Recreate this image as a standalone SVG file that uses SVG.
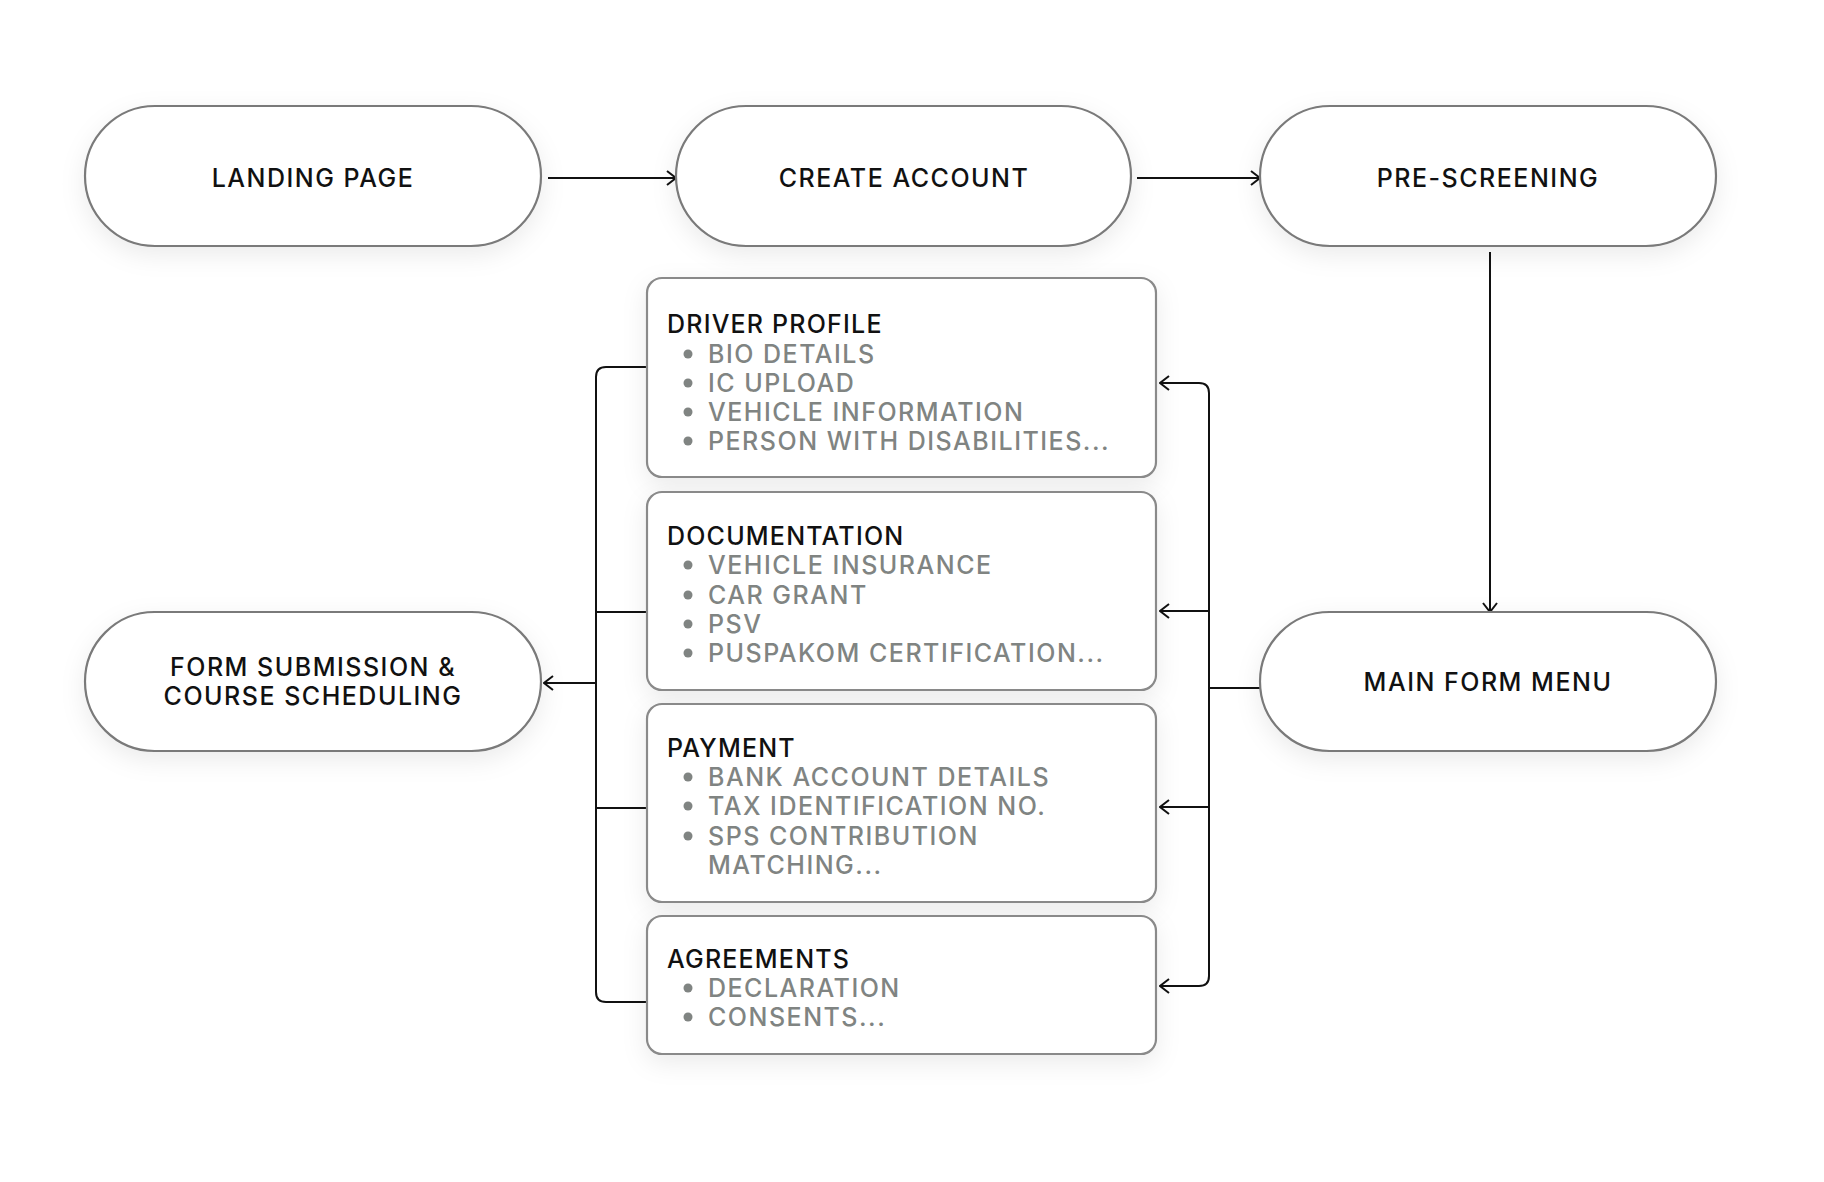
<svg xmlns="http://www.w3.org/2000/svg" width="1824" height="1182" viewBox="0 0 1824 1182">
<defs>
<filter id="sh" x="-20%" y="-30%" width="140%" height="170%"><feDropShadow dx="0" dy="8" stdDeviation="12" flood-color="#000" flood-opacity="0.08"/></filter>
<marker id="ah" viewBox="0 0 12 16" refX="11" refY="8" markerWidth="12" markerHeight="16" markerUnits="userSpaceOnUse" orient="auto"><path d="M2,1 L11,8 L2,15" fill="none" stroke="#111" stroke-width="2"/></marker>
</defs>
<style>
.pill{fill:#fff;stroke:#7a7a7a;stroke-width:2.2;filter:url(#sh)}
.box{fill:#fff;stroke:#8a8a8a;stroke-width:2.2;filter:url(#sh)}
.pt{font-family:Inter,"Liberation Sans",sans-serif;font-size:25px;font-weight:500;letter-spacing:1.5px;fill:#111;text-anchor:middle}
.tt{font-family:Inter,"Liberation Sans",sans-serif;font-size:25px;font-weight:500;letter-spacing:1.2px;fill:#111}
.it{font-family:Inter,"Liberation Sans",sans-serif;font-size:25px;font-weight:500;letter-spacing:1.5px;fill:#808482}
.dot{fill:#808482}
.ln{fill:none;stroke:#111;stroke-width:2}
</style>
<rect width="1824" height="1182" fill="#fff"/>
<g id="connectors">
<path class="ln" d="M548,178 H676" marker-end="url(#ah)"/>
<path class="ln" d="M1137,178 H1260" marker-end="url(#ah)"/>
<path class="ln" d="M1490,252 V612" marker-end="url(#ah)"/>
<path class="ln" d="M1260,688 H1209"/>
<path class="ln" d="M1209,688 V393 Q1209,383 1199,383 H1160" marker-end="url(#ah)"/>
<path class="ln" d="M1209,688 V976 Q1209,986 1199,986 H1160" marker-end="url(#ah)"/>
<path class="ln" d="M1209,611 H1160" marker-end="url(#ah)"/>
<path class="ln" d="M1209,807 H1160" marker-end="url(#ah)"/>
<path class="ln" d="M647,367 H606 Q596,367 596,377 V992 Q596,1002 606,1002 H647"/>
<path class="ln" d="M647,612 H596"/>
<path class="ln" d="M647,808 H596"/>
<path class="ln" d="M596,683 H544" marker-end="url(#ah)"/>
</g>
<g id="landing"><rect class="pill" x="85" y="106" width="456" height="140" rx="70"/><text class="pt" x="313" y="187">LANDING PAGE</text></g>
<g id="create"><rect class="pill" x="676" y="106" width="455" height="140" rx="70"/><text class="pt" x="904" y="187">CREATE ACCOUNT</text></g>
<g id="prescreen"><rect class="pill" x="1260" y="106" width="456" height="140" rx="70"/><text class="pt" x="1488" y="187">PRE-SCREENING</text></g>
<g id="mainmenu"><rect class="pill" x="1260" y="612" width="456" height="139" rx="69.5"/><text class="pt" x="1488" y="691">MAIN FORM MENU</text></g>
<g id="submission"><rect class="pill" x="85" y="612" width="456" height="139" rx="69.5"/><text class="pt" x="313" y="676">FORM SUBMISSION &amp;</text><text class="pt" x="313" y="705">COURSE SCHEDULING</text></g>
<g id="driver"><rect class="box" x="647" y="278" width="509" height="199" rx="15"/>
<text class="tt" x="667" y="333">DRIVER PROFILE</text>
<circle class="dot" cx="688" cy="354" r="4.5"/><text class="it" x="708" y="363">BIO DETAILS</text>
<circle class="dot" cx="688" cy="383" r="4.5"/><text class="it" x="708" y="392">IC UPLOAD</text>
<circle class="dot" cx="688" cy="412" r="4.5"/><text class="it" x="708" y="421">VEHICLE INFORMATION</text>
<circle class="dot" cx="688" cy="441" r="4.5"/><text class="it" x="708" y="450">PERSON WITH DISABILITIES...</text></g>
<g id="documentation"><rect class="box" x="647" y="492" width="509" height="198" rx="15"/>
<text class="tt" x="667" y="545">DOCUMENTATION</text>
<circle class="dot" cx="688" cy="565" r="4.5"/><text class="it" x="708" y="574">VEHICLE INSURANCE</text>
<circle class="dot" cx="688" cy="595" r="4.5"/><text class="it" x="708" y="604">CAR GRANT</text>
<circle class="dot" cx="688" cy="624" r="4.5"/><text class="it" x="708" y="633">PSV</text>
<circle class="dot" cx="688" cy="653" r="4.5"/><text class="it" x="708" y="662">PUSPAKOM CERTIFICATION...</text></g>
<g id="payment"><rect class="box" x="647" y="704" width="509" height="198" rx="15"/>
<text class="tt" x="667" y="757">PAYMENT</text>
<circle class="dot" cx="688" cy="777" r="4.5"/><text class="it" x="708" y="786">BANK ACCOUNT DETAILS</text>
<circle class="dot" cx="688" cy="806" r="4.5"/><text class="it" x="708" y="815">TAX IDENTIFICATION NO.</text>
<circle class="dot" cx="688" cy="836" r="4.5"/><text class="it" x="708" y="845">SPS CONTRIBUTION</text>
<text class="it" x="708" y="874">MATCHING...</text></g>
<g id="agreements"><rect class="box" x="647" y="916" width="509" height="138" rx="15"/>
<text class="tt" x="667" y="968">AGREEMENTS</text>
<circle class="dot" cx="688" cy="988" r="4.5"/><text class="it" x="708" y="997">DECLARATION</text>
<circle class="dot" cx="688" cy="1017" r="4.5"/><text class="it" x="708" y="1026">CONSENTS...</text></g>
</svg>
